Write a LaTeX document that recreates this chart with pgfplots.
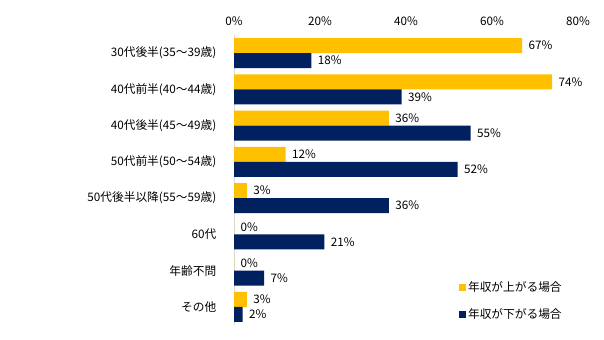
\documentclass[border=0pt]{standalone}
\usepackage{fontspec}
\setmainfont{Noto Sans CJK JP}
\usepackage{pgfplots}
\pgfplotsset{compat=1.18}
\definecolor{cyel}{HTML}{FFC000}
\definecolor{cnavy}{HTML}{002060}
\newcommand{\cf}{\fontsize{11.7bp}{13bp}\selectfont}
\begin{document}
\begin{tikzpicture}
\path[use as bounding box] (0,0) rectangle (604bp,340bp);
\begin{axis}[
  at={(234bp,15bp)}, anchor=south west,
  scale only axis, width=344bp, height=290bp,
  xbar, bar width=15bp,
  xmin=0, xmax=80, ymin=-0.5, ymax=7.5, y dir=reverse,
  xtick={0,20,40,60,80},
  xticklabel={\pgfmathprintnumber{\tick}\%},
  ytick={0,...,7},
  yticklabels={30代後半(35～39歳),40代前半(40～44歳),40代後半(45～49歳),50代前半(50～54歳),50代後半以降(55～59歳),60代,年齢不問,その他},
  axis x line*=top, x axis line style={draw=none},
  axis y line*=left, y axis line style={draw=black!15},
  tick style={draw=none},
  tick label style={font=\cf},
  /pgf/number format/assume math mode=true,
  xticklabel style={yshift=6bp},
  yticklabel style={xshift=-10bp},
  point meta=x,
  nodes near coords={\pgfmathprintnumber\pgfplotspointmeta\%},
  nodes near coords align={horizontal},
  every node near coord/.append style={font=\cf, xshift=3bp, text=black},
  legend style={at={(0.645,0.084)}, anchor=west, draw=none, fill=none, font=\cf, row sep=11bp},
  legend cell align=left,
  legend image code/.code={\fill[#1] (0bp,-4bp) rectangle (7bp,3bp);},
  clip=false,
]
\addplot[fill=cyel, draw=none, bar shift=7.5bp] coordinates {(67,0) (74,1) (36,2) (12,3) (3,4) (0,5) (0,6) (3,7)};
\addlegendentry{年収が上がる場合}
\addplot[fill=cnavy, draw=none, bar shift=-7.5bp] coordinates {(18,0) (39,1) (55,2) (52,3) (36,4) (21,5) (7,6) (2,7)};
\addlegendentry{年収が下がる場合}
\end{axis}
\end{tikzpicture}
\end{document}
